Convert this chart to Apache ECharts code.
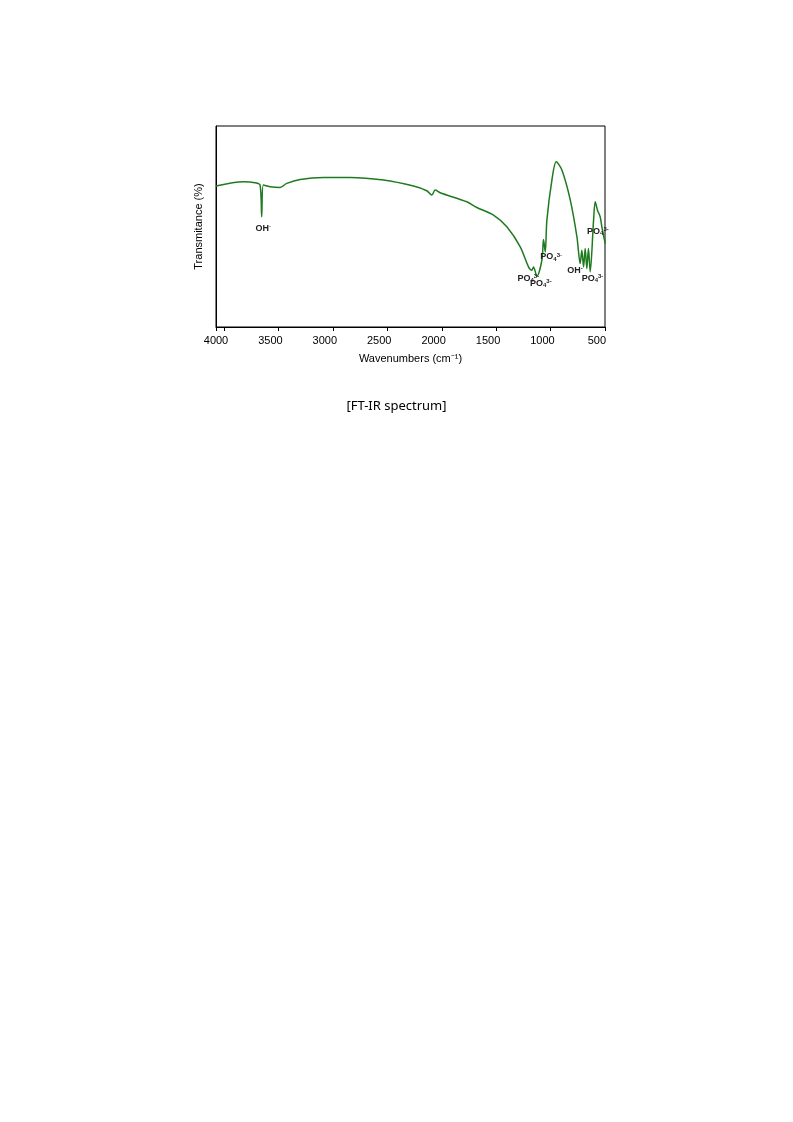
<!DOCTYPE html><html><head><meta charset="utf-8"><script src="https://cdn.jsdelivr.net/npm/echarts@6/dist/echarts.min.js"></script></head><body style="margin:0;background:#fff"><div id="c" style="width:793px;height:1122px"></div><script>
const wavenumbers=[4000,3749,3641,3595,3580,3565,3503,3411,3350,3227,3013,2768,2461,2185,2063,2017,1986,1940,1695,1603,1450,1327,1204,1128,1097,1082,1051,1005,990,974,959,913,873,821,744,683,653,638,622,607,592,577,561,530,515,494,469,454,423];
const transmittance=[422,435,432,425,330,425,420,418,430,442,448,448,440,422,408,395,410,402,375,358,335,300,240,180,170,180,152,200,262,225,320,440,495,470,380,270,190,230,180,235,175,235,165,320,375,350,330,300,250];
const labels=[
 {wn:3565,v:295,t:'{b|OH}{s|-}'},
 {wn:1130,v:145,t:'{b|PO}{d|4}{s|3-}'},
 {wn:1015,v:130,t:'{b|PO}{d|4}{s|3-}'},
 {wn:920,v:210,t:'{b|PO}{d|4}{s|3-}'},
 {wn:700,v:170,t:'{b|OH}{s|-}'},
 {wn:540,v:145,t:'{b|PO}{d|4}{s|3-}'},
 {wn:490,v:285,t:'{b|PO}{d|4}{s|3-}'}
];
const xTicks=[4000,3500,3000,2500,2000,1500,1000,500];
const rich={b:{fontSize:9,fontWeight:'bold',fontFamily:'Liberation Sans',color:'#222'},d:{fontSize:6,fontWeight:'bold',verticalAlign:'bottom',padding:[4,0,0,0],color:'#222'},s:{fontSize:6,fontWeight:'bold',verticalAlign:'top',padding:[0,0,4,0],color:'#222'}};
const ch=echarts.init(document.getElementById('c'));
ch.setOption({animation:false,
grid:{left:216,right:188,top:126,bottom:795},
xAxis:{type:'value',inverse:true,min:425,max:4000,interval:500,
 axisLine:{lineStyle:{color:'#000',width:1}},axisTick:{show:true,inside:false,length:4,lineStyle:{color:'#000'}},
 axisLabel:{color:'#000',fontSize:11,fontFamily:'Liberation Sans',customValues:xTicks,formatter:v=>v},
 splitLine:{show:false},
 name:'Wavenumbers (cm⁻¹)',nameLocation:'middle',nameGap:26,nameTextStyle:{color:'#000',fontSize:11,fontFamily:'Liberation Sans'}},
yAxis:{type:'value',min:0,max:602,axisLine:{show:true,lineStyle:{color:'#000'}},axisTick:{show:false},axisLabel:{show:false},splitLine:{show:false},
 name:'Transmitance (%)',nameLocation:'middle',nameGap:12,nameTextStyle:{color:'#000',fontSize:11,fontFamily:'Liberation Sans'}},
graphic:[{type:'rect',shape:{x:216,y:126,width:389,height:201},style:{fill:'none',stroke:'#000',lineWidth:1}},
 {type:'text',left:'center',top:400,style:{text:'[FT-IR spectrum]',fontSize:13,fill:'#000',fontFamily:'Noto Sans'}}],
series:[{type:'line',data:wavenumbers.map((w,i)=>[w,transmittance[i]]),symbol:'none',smooth:0.3,lineStyle:{color:'#1f7a1f',width:1.5},
 markPoint:{symbol:'circle',symbolSize:0,data:labels.map(l=>({coord:[l.wn,l.v],label:{show:true,formatter:l.t,rich:rich,position:'inside'}}))}}]
});
</script></body></html>
